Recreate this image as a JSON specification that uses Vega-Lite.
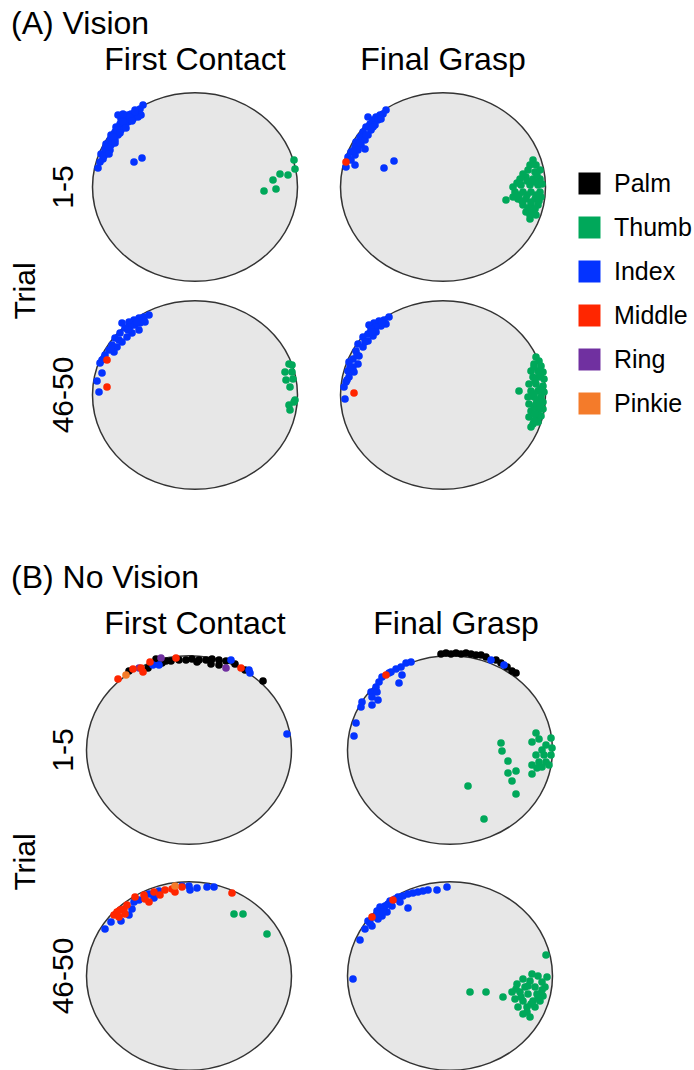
{
"$schema": "https://vega.github.io/schema/vega-lite/v6.json",
"padding": {"left": 11, "top": 8, "right": 0, "bottom": 0},
"background": "white",
"config": {
  "font": "Liberation Sans",
  "view": {"stroke": null},
  "header": {"labelFont": "Liberation Sans", "labelFontSize": 32, "labelColor": "black", "titleFont": "Liberation Sans", "titleFontSize": 30, "titleFontWeight": "normal", "titleColor": "black"},
  "title": {"font": "Liberation Sans", "fontSize": 32, "fontWeight": "normal", "color": "black", "anchor": "start"}
},
"datasets": {
"A": [
{"trial":"1-5","phase":"First Contact","item":"object","x":0,"y":0},
{"trial":"1-5","phase":"Final Grasp","item":"object","x":0,"y":0},
{"trial":"46-50","phase":"First Contact","item":"object","x":0,"y":0},
{"trial":"46-50","phase":"Final Grasp","item":"object","x":0,"y":0},
{"trial":"1-5","phase":"First Contact","digit":"Index","x":-52,"y":-82},
{"trial":"1-5","phase":"First Contact","digit":"Index","x":-55,"y":-78},
{"trial":"1-5","phase":"First Contact","digit":"Index","x":-60,"y":-77},
{"trial":"1-5","phase":"First Contact","digit":"Index","x":-64,"y":-73},
{"trial":"1-5","phase":"First Contact","digit":"Index","x":-67,"y":-72},
{"trial":"1-5","phase":"First Contact","digit":"Index","x":-59,"y":-73},
{"trial":"1-5","phase":"First Contact","digit":"Index","x":-70,"y":-70},
{"trial":"1-5","phase":"First Contact","digit":"Index","x":-74,"y":-68},
{"trial":"1-5","phase":"First Contact","digit":"Index","x":-62,"y":-68},
{"trial":"1-5","phase":"First Contact","digit":"Index","x":-67,"y":-65},
{"trial":"1-5","phase":"First Contact","digit":"Index","x":-75,"y":-63},
{"trial":"1-5","phase":"First Contact","digit":"Index","x":-70,"y":-62},
{"trial":"1-5","phase":"First Contact","digit":"Index","x":-79,"y":-60},
{"trial":"1-5","phase":"First Contact","digit":"Index","x":-74,"y":-57},
{"trial":"1-5","phase":"First Contact","digit":"Index","x":-80,"y":-55},
{"trial":"1-5","phase":"First Contact","digit":"Index","x":-77,"y":-52},
{"trial":"1-5","phase":"First Contact","digit":"Index","x":-84,"y":-52},
{"trial":"1-5","phase":"First Contact","digit":"Index","x":-85,"y":-47},
{"trial":"1-5","phase":"First Contact","digit":"Index","x":-80,"y":-47},
{"trial":"1-5","phase":"First Contact","digit":"Index","x":-89,"y":-43},
{"trial":"1-5","phase":"First Contact","digit":"Index","x":-84,"y":-42},
{"trial":"1-5","phase":"First Contact","digit":"Index","x":-90,"y":-38},
{"trial":"1-5","phase":"First Contact","digit":"Index","x":-85,"y":-37},
{"trial":"1-5","phase":"First Contact","digit":"Index","x":-94,"y":-33},
{"trial":"1-5","phase":"First Contact","digit":"Index","x":-89,"y":-35},
{"trial":"1-5","phase":"First Contact","digit":"Index","x":-92,"y":-28},
{"trial":"1-5","phase":"First Contact","digit":"Index","x":-95,"y":-25},
{"trial":"1-5","phase":"First Contact","digit":"Index","x":-97,"y":-19},
{"trial":"1-5","phase":"First Contact","digit":"Index","x":-54,"y":-72},
{"trial":"1-5","phase":"First Contact","digit":"Index","x":-57,"y":-70},
{"trial":"1-5","phase":"First Contact","digit":"Index","x":-77,"y":-72},
{"trial":"1-5","phase":"First Contact","digit":"Index","x":-72,"y":-73},
{"trial":"1-5","phase":"First Contact","digit":"Index","x":-65,"y":-70},
{"trial":"1-5","phase":"First Contact","digit":"Index","x":-72,"y":-65},
{"trial":"1-5","phase":"First Contact","digit":"Index","x":-78,"y":-57},
{"trial":"1-5","phase":"First Contact","digit":"Index","x":-82,"y":-50},
{"trial":"1-5","phase":"First Contact","digit":"Index","x":-87,"y":-40},
{"trial":"1-5","phase":"First Contact","digit":"Index","x":-91,"y":-31},
{"trial":"1-5","phase":"First Contact","digit":"Index","x":-60,"y":-75},
{"trial":"1-5","phase":"First Contact","digit":"Index","x":-63,"y":-66},
{"trial":"1-5","phase":"First Contact","digit":"Index","x":-69,"y":-59},
{"trial":"1-5","phase":"First Contact","digit":"Index","x":-75,"y":-54},
{"trial":"1-5","phase":"First Contact","digit":"Index","x":-80,"y":-44},
{"trial":"1-5","phase":"First Contact","digit":"Index","x":-86,"y":-33},
{"trial":"1-5","phase":"First Contact","digit":"Index","x":-61,"y":-25},
{"trial":"1-5","phase":"First Contact","digit":"Index","x":-53,"y":-29},
{"trial":"1-5","phase":"First Contact","digit":"Thumb","x":99,"y":-27},
{"trial":"1-5","phase":"First Contact","digit":"Thumb","x":100,"y":-18},
{"trial":"1-5","phase":"First Contact","digit":"Thumb","x":85,"y":-13},
{"trial":"1-5","phase":"First Contact","digit":"Thumb","x":93,"y":-12},
{"trial":"1-5","phase":"First Contact","digit":"Thumb","x":78,"y":-7},
{"trial":"1-5","phase":"First Contact","digit":"Thumb","x":81,"y":2},
{"trial":"1-5","phase":"First Contact","digit":"Thumb","x":69,"y":4},
{"trial":"1-5","phase":"Final Grasp","digit":"Index","x":-57,"y":-77},
{"trial":"1-5","phase":"Final Grasp","digit":"Index","x":-60,"y":-73},
{"trial":"1-5","phase":"Final Grasp","digit":"Index","x":-63,"y":-72},
{"trial":"1-5","phase":"Final Grasp","digit":"Index","x":-67,"y":-70},
{"trial":"1-5","phase":"Final Grasp","digit":"Index","x":-75,"y":-70},
{"trial":"1-5","phase":"Final Grasp","digit":"Index","x":-70,"y":-67},
{"trial":"1-5","phase":"Final Grasp","digit":"Index","x":-65,"y":-67},
{"trial":"1-5","phase":"Final Grasp","digit":"Index","x":-73,"y":-63},
{"trial":"1-5","phase":"Final Grasp","digit":"Index","x":-68,"y":-62},
{"trial":"1-5","phase":"Final Grasp","digit":"Index","x":-77,"y":-60},
{"trial":"1-5","phase":"Final Grasp","digit":"Index","x":-72,"y":-57},
{"trial":"1-5","phase":"Final Grasp","digit":"Index","x":-80,"y":-55},
{"trial":"1-5","phase":"Final Grasp","digit":"Index","x":-75,"y":-52},
{"trial":"1-5","phase":"Final Grasp","digit":"Index","x":-83,"y":-50},
{"trial":"1-5","phase":"Final Grasp","digit":"Index","x":-78,"y":-47},
{"trial":"1-5","phase":"Final Grasp","digit":"Index","x":-87,"y":-45},
{"trial":"1-5","phase":"Final Grasp","digit":"Index","x":-82,"y":-42},
{"trial":"1-5","phase":"Final Grasp","digit":"Index","x":-88,"y":-40},
{"trial":"1-5","phase":"Final Grasp","digit":"Index","x":-85,"y":-37},
{"trial":"1-5","phase":"Final Grasp","digit":"Index","x":-78,"y":-38},
{"trial":"1-5","phase":"Final Grasp","digit":"Index","x":-92,"y":-35},
{"trial":"1-5","phase":"Final Grasp","digit":"Index","x":-88,"y":-32},
{"trial":"1-5","phase":"Final Grasp","digit":"Index","x":-95,"y":-30},
{"trial":"1-5","phase":"Final Grasp","digit":"Index","x":-62,"y":-68},
{"trial":"1-5","phase":"Final Grasp","digit":"Index","x":-70,"y":-60},
{"trial":"1-5","phase":"Final Grasp","digit":"Index","x":-77,"y":-52},
{"trial":"1-5","phase":"Final Grasp","digit":"Index","x":-83,"y":-44},
{"trial":"1-5","phase":"Final Grasp","digit":"Index","x":-90,"y":-36},
{"trial":"1-5","phase":"Final Grasp","digit":"Index","x":-92,"y":-27},
{"trial":"1-5","phase":"Final Grasp","digit":"Index","x":-97,"y":-20},
{"trial":"1-5","phase":"Final Grasp","digit":"Index","x":-88,"y":-22},
{"trial":"1-5","phase":"Final Grasp","digit":"Index","x":-59,"y":-19},
{"trial":"1-5","phase":"Final Grasp","digit":"Index","x":-49,"y":-26},
{"trial":"1-5","phase":"Final Grasp","digit":"Middle","x":-97,"y":-25},
{"trial":"1-5","phase":"Final Grasp","digit":"Thumb","x":90,"y":-27},
{"trial":"1-5","phase":"Final Grasp","digit":"Thumb","x":93,"y":-22},
{"trial":"1-5","phase":"Final Grasp","digit":"Thumb","x":85,"y":-17},
{"trial":"1-5","phase":"Final Grasp","digit":"Thumb","x":92,"y":-15},
{"trial":"1-5","phase":"Final Grasp","digit":"Thumb","x":97,"y":-17},
{"trial":"1-5","phase":"Final Grasp","digit":"Thumb","x":77,"y":-8},
{"trial":"1-5","phase":"Final Grasp","digit":"Thumb","x":83,"y":-10},
{"trial":"1-5","phase":"Final Grasp","digit":"Thumb","x":90,"y":-8},
{"trial":"1-5","phase":"Final Grasp","digit":"Thumb","x":97,"y":-8},
{"trial":"1-5","phase":"Final Grasp","digit":"Thumb","x":70,"y":0},
{"trial":"1-5","phase":"Final Grasp","digit":"Thumb","x":78,"y":-2},
{"trial":"1-5","phase":"Final Grasp","digit":"Thumb","x":87,"y":-2},
{"trial":"1-5","phase":"Final Grasp","digit":"Thumb","x":95,"y":-2},
{"trial":"1-5","phase":"Final Grasp","digit":"Thumb","x":72,"y":5},
{"trial":"1-5","phase":"Final Grasp","digit":"Thumb","x":80,"y":5},
{"trial":"1-5","phase":"Final Grasp","digit":"Thumb","x":88,"y":5},
{"trial":"1-5","phase":"Final Grasp","digit":"Thumb","x":97,"y":5},
{"trial":"1-5","phase":"Final Grasp","digit":"Thumb","x":63,"y":13},
{"trial":"1-5","phase":"Final Grasp","digit":"Thumb","x":75,"y":12},
{"trial":"1-5","phase":"Final Grasp","digit":"Thumb","x":83,"y":12},
{"trial":"1-5","phase":"Final Grasp","digit":"Thumb","x":92,"y":12},
{"trial":"1-5","phase":"Final Grasp","digit":"Thumb","x":98,"y":10},
{"trial":"1-5","phase":"Final Grasp","digit":"Thumb","x":80,"y":18},
{"trial":"1-5","phase":"Final Grasp","digit":"Thumb","x":88,"y":18},
{"trial":"1-5","phase":"Final Grasp","digit":"Thumb","x":95,"y":18},
{"trial":"1-5","phase":"Final Grasp","digit":"Thumb","x":83,"y":25},
{"trial":"1-5","phase":"Final Grasp","digit":"Thumb","x":90,"y":25},
{"trial":"1-5","phase":"Final Grasp","digit":"Thumb","x":87,"y":32},
{"trial":"1-5","phase":"Final Grasp","digit":"Thumb","x":93,"y":28},
{"trial":"1-5","phase":"Final Grasp","digit":"Thumb","x":87,"y":-22},
{"trial":"1-5","phase":"Final Grasp","digit":"Thumb","x":80,"y":-13},
{"trial":"1-5","phase":"Final Grasp","digit":"Thumb","x":94,"y":-12},
{"trial":"1-5","phase":"Final Grasp","digit":"Thumb","x":74,"y":-4},
{"trial":"1-5","phase":"Final Grasp","digit":"Thumb","x":84,"y":-6},
{"trial":"1-5","phase":"Final Grasp","digit":"Thumb","x":92,"y":-5},
{"trial":"1-5","phase":"Final Grasp","digit":"Thumb","x":99,"y":-3},
{"trial":"1-5","phase":"Final Grasp","digit":"Thumb","x":76,"y":8},
{"trial":"1-5","phase":"Final Grasp","digit":"Thumb","x":84,"y":8},
{"trial":"1-5","phase":"Final Grasp","digit":"Thumb","x":93,"y":8},
{"trial":"1-5","phase":"Final Grasp","digit":"Thumb","x":70,"y":10},
{"trial":"1-5","phase":"Final Grasp","digit":"Thumb","x":79,"y":14},
{"trial":"1-5","phase":"Final Grasp","digit":"Thumb","x":88,"y":15},
{"trial":"1-5","phase":"Final Grasp","digit":"Thumb","x":96,"y":14},
{"trial":"1-5","phase":"Final Grasp","digit":"Thumb","x":85,"y":21},
{"trial":"1-5","phase":"Final Grasp","digit":"Thumb","x":92,"y":22},
{"trial":"1-5","phase":"Final Grasp","digit":"Thumb","x":87,"y":28},
{"trial":"46-50","phase":"First Contact","digit":"Index","x":-46,"y":-80},
{"trial":"46-50","phase":"First Contact","digit":"Index","x":-51,"y":-78},
{"trial":"46-50","phase":"First Contact","digit":"Index","x":-56,"y":-77},
{"trial":"46-50","phase":"First Contact","digit":"Index","x":-61,"y":-75},
{"trial":"46-50","phase":"First Contact","digit":"Index","x":-66,"y":-73},
{"trial":"46-50","phase":"First Contact","digit":"Index","x":-73,"y":-72},
{"trial":"46-50","phase":"First Contact","digit":"Index","x":-50,"y":-73},
{"trial":"46-50","phase":"First Contact","digit":"Index","x":-55,"y":-72},
{"trial":"46-50","phase":"First Contact","digit":"Index","x":-60,"y":-70},
{"trial":"46-50","phase":"First Contact","digit":"Index","x":-65,"y":-68},
{"trial":"46-50","phase":"First Contact","digit":"Index","x":-70,"y":-67},
{"trial":"46-50","phase":"First Contact","digit":"Index","x":-56,"y":-65},
{"trial":"46-50","phase":"First Contact","digit":"Index","x":-63,"y":-62},
{"trial":"46-50","phase":"First Contact","digit":"Index","x":-68,"y":-58},
{"trial":"46-50","phase":"First Contact","digit":"Index","x":-75,"y":-62},
{"trial":"46-50","phase":"First Contact","digit":"Index","x":-80,"y":-57},
{"trial":"46-50","phase":"First Contact","digit":"Index","x":-73,"y":-53},
{"trial":"46-50","phase":"First Contact","digit":"Index","x":-83,"y":-50},
{"trial":"46-50","phase":"First Contact","digit":"Index","x":-78,"y":-48},
{"trial":"46-50","phase":"First Contact","digit":"Index","x":-86,"y":-45},
{"trial":"46-50","phase":"First Contact","digit":"Index","x":-81,"y":-43},
{"trial":"46-50","phase":"First Contact","digit":"Index","x":-90,"y":-40},
{"trial":"46-50","phase":"First Contact","digit":"Index","x":-93,"y":-35},
{"trial":"46-50","phase":"First Contact","digit":"Index","x":-95,"y":-32},
{"trial":"46-50","phase":"First Contact","digit":"Index","x":-58,"y":-73},
{"trial":"46-50","phase":"First Contact","digit":"Index","x":-67,"y":-65},
{"trial":"46-50","phase":"First Contact","digit":"Index","x":-76,"y":-55},
{"trial":"46-50","phase":"First Contact","digit":"Index","x":-84,"y":-46},
{"trial":"46-50","phase":"First Contact","digit":"Index","x":-91,"y":-37},
{"trial":"46-50","phase":"First Contact","digit":"Index","x":-93,"y":-22},
{"trial":"46-50","phase":"First Contact","digit":"Index","x":-98,"y":-14},
{"trial":"46-50","phase":"First Contact","digit":"Index","x":-96,"y":-3},
{"trial":"46-50","phase":"First Contact","digit":"Middle","x":-88,"y":-35},
{"trial":"46-50","phase":"First Contact","digit":"Middle","x":-88,"y":-8},
{"trial":"46-50","phase":"First Contact","digit":"Thumb","x":94,"y":-31},
{"trial":"46-50","phase":"First Contact","digit":"Thumb","x":97,"y":-30},
{"trial":"46-50","phase":"First Contact","digit":"Thumb","x":90,"y":-23},
{"trial":"46-50","phase":"First Contact","digit":"Thumb","x":97,"y":-23},
{"trial":"46-50","phase":"First Contact","digit":"Thumb","x":91,"y":-15},
{"trial":"46-50","phase":"First Contact","digit":"Thumb","x":98,"y":-16},
{"trial":"46-50","phase":"First Contact","digit":"Thumb","x":95,"y":-8},
{"trial":"46-50","phase":"First Contact","digit":"Thumb","x":99,"y":7},
{"trial":"46-50","phase":"First Contact","digit":"Thumb","x":94,"y":10},
{"trial":"46-50","phase":"First Contact","digit":"Thumb","x":95,"y":15},
{"trial":"46-50","phase":"First Contact","digit":"Thumb","x":100,"y":5},
{"trial":"46-50","phase":"Final Grasp","digit":"Index","x":-54,"y":-78},
{"trial":"46-50","phase":"Final Grasp","digit":"Index","x":-59,"y":-75},
{"trial":"46-50","phase":"Final Grasp","digit":"Index","x":-64,"y":-74},
{"trial":"46-50","phase":"Final Grasp","digit":"Index","x":-69,"y":-72},
{"trial":"46-50","phase":"Final Grasp","digit":"Index","x":-74,"y":-70},
{"trial":"46-50","phase":"Final Grasp","digit":"Index","x":-57,"y":-71},
{"trial":"46-50","phase":"Final Grasp","digit":"Index","x":-62,"y":-69},
{"trial":"46-50","phase":"Final Grasp","digit":"Index","x":-67,"y":-68},
{"trial":"46-50","phase":"Final Grasp","digit":"Index","x":-72,"y":-66},
{"trial":"46-50","phase":"Final Grasp","digit":"Index","x":-67,"y":-63},
{"trial":"46-50","phase":"Final Grasp","digit":"Index","x":-75,"y":-61},
{"trial":"46-50","phase":"Final Grasp","digit":"Index","x":-70,"y":-59},
{"trial":"46-50","phase":"Final Grasp","digit":"Index","x":-80,"y":-58},
{"trial":"46-50","phase":"Final Grasp","digit":"Index","x":-75,"y":-54},
{"trial":"46-50","phase":"Final Grasp","digit":"Index","x":-85,"y":-51},
{"trial":"46-50","phase":"Final Grasp","digit":"Index","x":-80,"y":-48},
{"trial":"46-50","phase":"Final Grasp","digit":"Index","x":-87,"y":-44},
{"trial":"46-50","phase":"Final Grasp","digit":"Index","x":-84,"y":-39},
{"trial":"46-50","phase":"Final Grasp","digit":"Index","x":-90,"y":-36},
{"trial":"46-50","phase":"Final Grasp","digit":"Index","x":-94,"y":-33},
{"trial":"46-50","phase":"Final Grasp","digit":"Index","x":-85,"y":-31},
{"trial":"46-50","phase":"Final Grasp","digit":"Index","x":-90,"y":-28},
{"trial":"46-50","phase":"Final Grasp","digit":"Index","x":-95,"y":-24},
{"trial":"46-50","phase":"Final Grasp","digit":"Index","x":-89,"y":-23},
{"trial":"46-50","phase":"Final Grasp","digit":"Index","x":-94,"y":-18},
{"trial":"46-50","phase":"Final Grasp","digit":"Index","x":-97,"y":-13},
{"trial":"46-50","phase":"Final Grasp","digit":"Index","x":-99,"y":-8},
{"trial":"46-50","phase":"Final Grasp","digit":"Index","x":-61,"y":-72},
{"trial":"46-50","phase":"Final Grasp","digit":"Index","x":-71,"y":-63},
{"trial":"46-50","phase":"Final Grasp","digit":"Index","x":-78,"y":-53},
{"trial":"46-50","phase":"Final Grasp","digit":"Index","x":-86,"y":-40},
{"trial":"46-50","phase":"Final Grasp","digit":"Index","x":-93,"y":-28},
{"trial":"46-50","phase":"Final Grasp","digit":"Index","x":-96,"y":-15},
{"trial":"46-50","phase":"Final Grasp","digit":"Index","x":-98,"y":4},
{"trial":"46-50","phase":"Final Grasp","digit":"Middle","x":-89,"y":-2},
{"trial":"46-50","phase":"Final Grasp","digit":"Thumb","x":93,"y":-38},
{"trial":"46-50","phase":"Final Grasp","digit":"Thumb","x":96,"y":-34},
{"trial":"46-50","phase":"Final Grasp","digit":"Thumb","x":91,"y":-31},
{"trial":"46-50","phase":"Final Grasp","digit":"Thumb","x":98,"y":-29},
{"trial":"46-50","phase":"Final Grasp","digit":"Thumb","x":88,"y":-24},
{"trial":"46-50","phase":"Final Grasp","digit":"Thumb","x":95,"y":-24},
{"trial":"46-50","phase":"Final Grasp","digit":"Thumb","x":100,"y":-23},
{"trial":"46-50","phase":"Final Grasp","digit":"Thumb","x":90,"y":-18},
{"trial":"46-50","phase":"Final Grasp","digit":"Thumb","x":96,"y":-18},
{"trial":"46-50","phase":"Final Grasp","digit":"Thumb","x":101,"y":-16},
{"trial":"46-50","phase":"Final Grasp","digit":"Thumb","x":86,"y":-11},
{"trial":"46-50","phase":"Final Grasp","digit":"Thumb","x":93,"y":-11},
{"trial":"46-50","phase":"Final Grasp","digit":"Thumb","x":100,"y":-9},
{"trial":"46-50","phase":"Final Grasp","digit":"Thumb","x":88,"y":-4},
{"trial":"46-50","phase":"Final Grasp","digit":"Thumb","x":95,"y":-4},
{"trial":"46-50","phase":"Final Grasp","digit":"Thumb","x":101,"y":-3},
{"trial":"46-50","phase":"Final Grasp","digit":"Thumb","x":85,"y":2},
{"trial":"46-50","phase":"Final Grasp","digit":"Thumb","x":91,"y":2},
{"trial":"46-50","phase":"Final Grasp","digit":"Thumb","x":98,"y":2},
{"trial":"46-50","phase":"Final Grasp","digit":"Thumb","x":86,"y":9},
{"trial":"46-50","phase":"Final Grasp","digit":"Thumb","x":93,"y":9},
{"trial":"46-50","phase":"Final Grasp","digit":"Thumb","x":100,"y":7},
{"trial":"46-50","phase":"Final Grasp","digit":"Thumb","x":88,"y":16},
{"trial":"46-50","phase":"Final Grasp","digit":"Thumb","x":95,"y":16},
{"trial":"46-50","phase":"Final Grasp","digit":"Thumb","x":100,"y":14},
{"trial":"46-50","phase":"Final Grasp","digit":"Thumb","x":86,"y":22},
{"trial":"46-50","phase":"Final Grasp","digit":"Thumb","x":93,"y":22},
{"trial":"46-50","phase":"Final Grasp","digit":"Thumb","x":98,"y":21},
{"trial":"46-50","phase":"Final Grasp","digit":"Thumb","x":90,"y":29},
{"trial":"46-50","phase":"Final Grasp","digit":"Thumb","x":95,"y":27},
{"trial":"46-50","phase":"Final Grasp","digit":"Thumb","x":88,"y":32},
{"trial":"46-50","phase":"Final Grasp","digit":"Thumb","x":91,"y":-28},
{"trial":"46-50","phase":"Final Grasp","digit":"Thumb","x":97,"y":-20},
{"trial":"46-50","phase":"Final Grasp","digit":"Thumb","x":92,"y":-14},
{"trial":"46-50","phase":"Final Grasp","digit":"Thumb","x":97,"y":-6},
{"trial":"46-50","phase":"Final Grasp","digit":"Thumb","x":91,"y":-1},
{"trial":"46-50","phase":"Final Grasp","digit":"Thumb","x":94,"y":5},
{"trial":"46-50","phase":"Final Grasp","digit":"Thumb","x":91,"y":12},
{"trial":"46-50","phase":"Final Grasp","digit":"Thumb","x":97,"y":10},
{"trial":"46-50","phase":"Final Grasp","digit":"Thumb","x":92,"y":19},
{"trial":"46-50","phase":"Final Grasp","digit":"Thumb","x":91,"y":26},
{"trial":"46-50","phase":"Final Grasp","digit":"Thumb","x":76,"y":-4}
],
"B": [
{"trial":"1-5","phase":"First Contact","item":"object","x":0,"y":0},
{"trial":"1-5","phase":"Final Grasp","item":"object","x":0,"y":0},
{"trial":"46-50","phase":"First Contact","item":"object","x":0,"y":0},
{"trial":"46-50","phase":"Final Grasp","item":"object","x":0,"y":0},
{"trial":"1-5","phase":"First Contact","digit":"Palm","x":-60,"y":-79},
{"trial":"1-5","phase":"First Contact","digit":"Palm","x":-41,"y":-82},
{"trial":"1-5","phase":"First Contact","digit":"Palm","x":-33,"y":-91},
{"trial":"1-5","phase":"First Contact","digit":"Palm","x":-23,"y":-89},
{"trial":"1-5","phase":"First Contact","digit":"Palm","x":-18,"y":-89},
{"trial":"1-5","phase":"First Contact","digit":"Palm","x":-10,"y":-90},
{"trial":"1-5","phase":"First Contact","digit":"Palm","x":-3,"y":-90},
{"trial":"1-5","phase":"First Contact","digit":"Palm","x":3,"y":-91},
{"trial":"1-5","phase":"First Contact","digit":"Palm","x":10,"y":-90},
{"trial":"1-5","phase":"First Contact","digit":"Palm","x":17,"y":-90},
{"trial":"1-5","phase":"First Contact","digit":"Palm","x":23,"y":-91},
{"trial":"1-5","phase":"First Contact","digit":"Palm","x":30,"y":-90},
{"trial":"1-5","phase":"First Contact","digit":"Palm","x":22,"y":-86},
{"trial":"1-5","phase":"First Contact","digit":"Palm","x":30,"y":-85},
{"trial":"1-5","phase":"First Contact","digit":"Palm","x":37,"y":-89},
{"trial":"1-5","phase":"First Contact","digit":"Palm","x":46,"y":-86},
{"trial":"1-5","phase":"First Contact","digit":"Palm","x":56,"y":-80},
{"trial":"1-5","phase":"First Contact","digit":"Palm","x":74,"y":-69},
{"trial":"1-5","phase":"First Contact","digit":"Palm","x":8,"y":-88},
{"trial":"1-5","phase":"First Contact","digit":"Palm","x":-27,"y":-87},
{"trial":"1-5","phase":"First Contact","digit":"Ring","x":-50,"y":-82},
{"trial":"1-5","phase":"First Contact","digit":"Ring","x":-28,"y":-92},
{"trial":"1-5","phase":"First Contact","digit":"Ring","x":37,"y":-82},
{"trial":"1-5","phase":"First Contact","digit":"Index","x":-36,"y":-85},
{"trial":"1-5","phase":"First Contact","digit":"Index","x":-30,"y":-85},
{"trial":"1-5","phase":"First Contact","digit":"Index","x":42,"y":-90},
{"trial":"1-5","phase":"First Contact","digit":"Index","x":61,"y":-77},
{"trial":"1-5","phase":"First Contact","digit":"Index","x":60,"y":-80},
{"trial":"1-5","phase":"First Contact","digit":"Index","x":98,"y":-16},
{"trial":"1-5","phase":"First Contact","digit":"Middle","x":-71,"y":-71},
{"trial":"1-5","phase":"First Contact","digit":"Middle","x":-56,"y":-81},
{"trial":"1-5","phase":"First Contact","digit":"Middle","x":-48,"y":-82},
{"trial":"1-5","phase":"First Contact","digit":"Middle","x":-46,"y":-78},
{"trial":"1-5","phase":"First Contact","digit":"Middle","x":-39,"y":-88},
{"trial":"1-5","phase":"First Contact","digit":"Middle","x":-13,"y":-92},
{"trial":"1-5","phase":"First Contact","digit":"Middle","x":52,"y":-82},
{"trial":"1-5","phase":"First Contact","digit":"Pinkie","x":-63,"y":-75},
{"trial":"1-5","phase":"Final Grasp","digit":"Palm","x":-9,"y":-96},
{"trial":"1-5","phase":"Final Grasp","digit":"Palm","x":-4,"y":-97},
{"trial":"1-5","phase":"Final Grasp","digit":"Palm","x":1,"y":-96},
{"trial":"1-5","phase":"Final Grasp","digit":"Palm","x":6,"y":-97},
{"trial":"1-5","phase":"Final Grasp","digit":"Palm","x":11,"y":-96},
{"trial":"1-5","phase":"Final Grasp","digit":"Palm","x":16,"y":-97},
{"trial":"1-5","phase":"Final Grasp","digit":"Palm","x":21,"y":-96},
{"trial":"1-5","phase":"Final Grasp","digit":"Palm","x":26,"y":-95},
{"trial":"1-5","phase":"Final Grasp","digit":"Palm","x":31,"y":-95},
{"trial":"1-5","phase":"Final Grasp","digit":"Palm","x":36,"y":-93},
{"trial":"1-5","phase":"Final Grasp","digit":"Palm","x":46,"y":-90},
{"trial":"1-5","phase":"Final Grasp","digit":"Palm","x":51,"y":-87},
{"trial":"1-5","phase":"Final Grasp","digit":"Palm","x":57,"y":-83},
{"trial":"1-5","phase":"Final Grasp","digit":"Palm","x":62,"y":-79},
{"trial":"1-5","phase":"Final Grasp","digit":"Palm","x":66,"y":-77},
{"trial":"1-5","phase":"Final Grasp","digit":"Index","x":41,"y":-90},
{"trial":"1-5","phase":"Final Grasp","digit":"Index","x":54,"y":-85},
{"trial":"1-5","phase":"Final Grasp","digit":"Index","x":-39,"y":-88},
{"trial":"1-5","phase":"Final Grasp","digit":"Index","x":-44,"y":-87},
{"trial":"1-5","phase":"Final Grasp","digit":"Index","x":-49,"y":-83},
{"trial":"1-5","phase":"Final Grasp","digit":"Index","x":-54,"y":-81},
{"trial":"1-5","phase":"Final Grasp","digit":"Index","x":-59,"y":-78},
{"trial":"1-5","phase":"Final Grasp","digit":"Index","x":-48,"y":-75},
{"trial":"1-5","phase":"Final Grasp","digit":"Index","x":-51,"y":-67},
{"trial":"1-5","phase":"Final Grasp","digit":"Index","x":-68,"y":-73},
{"trial":"1-5","phase":"Final Grasp","digit":"Index","x":-71,"y":-68},
{"trial":"1-5","phase":"Final Grasp","digit":"Index","x":-74,"y":-63},
{"trial":"1-5","phase":"Final Grasp","digit":"Index","x":-79,"y":-58},
{"trial":"1-5","phase":"Final Grasp","digit":"Index","x":-73,"y":-58},
{"trial":"1-5","phase":"Final Grasp","digit":"Index","x":-78,"y":-53},
{"trial":"1-5","phase":"Final Grasp","digit":"Index","x":-88,"y":-48},
{"trial":"1-5","phase":"Final Grasp","digit":"Index","x":-78,"y":-45},
{"trial":"1-5","phase":"Final Grasp","digit":"Index","x":-72,"y":-50},
{"trial":"1-5","phase":"Final Grasp","digit":"Index","x":-89,"y":-43},
{"trial":"1-5","phase":"Final Grasp","digit":"Index","x":-94,"y":-27},
{"trial":"1-5","phase":"Final Grasp","digit":"Index","x":-96,"y":-14},
{"trial":"1-5","phase":"Final Grasp","digit":"Index","x":-61,"y":-77},
{"trial":"1-5","phase":"Final Grasp","digit":"Middle","x":-64,"y":-75},
{"trial":"1-5","phase":"Final Grasp","digit":"Thumb","x":86,"y":-17},
{"trial":"1-5","phase":"Final Grasp","digit":"Thumb","x":89,"y":-11},
{"trial":"1-5","phase":"Final Grasp","digit":"Thumb","x":82,"y":-8},
{"trial":"1-5","phase":"Final Grasp","digit":"Thumb","x":101,"y":-12},
{"trial":"1-5","phase":"Final Grasp","digit":"Thumb","x":96,"y":-5},
{"trial":"1-5","phase":"Final Grasp","digit":"Thumb","x":102,"y":-2},
{"trial":"1-5","phase":"Final Grasp","digit":"Thumb","x":92,"y":0},
{"trial":"1-5","phase":"Final Grasp","digit":"Thumb","x":86,"y":5},
{"trial":"1-5","phase":"Final Grasp","digit":"Thumb","x":94,"y":5},
{"trial":"1-5","phase":"Final Grasp","digit":"Thumb","x":101,"y":5},
{"trial":"1-5","phase":"Final Grasp","digit":"Thumb","x":89,"y":12},
{"trial":"1-5","phase":"Final Grasp","digit":"Thumb","x":96,"y":12},
{"trial":"1-5","phase":"Final Grasp","digit":"Thumb","x":82,"y":15},
{"trial":"1-5","phase":"Final Grasp","digit":"Thumb","x":92,"y":17},
{"trial":"1-5","phase":"Final Grasp","digit":"Thumb","x":99,"y":15},
{"trial":"1-5","phase":"Final Grasp","digit":"Thumb","x":87,"y":18},
{"trial":"1-5","phase":"Final Grasp","digit":"Thumb","x":82,"y":24},
{"trial":"1-5","phase":"Final Grasp","digit":"Thumb","x":51,"y":-7},
{"trial":"1-5","phase":"Final Grasp","digit":"Thumb","x":52,"y":1},
{"trial":"1-5","phase":"Final Grasp","digit":"Thumb","x":58,"y":11},
{"trial":"1-5","phase":"Final Grasp","digit":"Thumb","x":66,"y":21},
{"trial":"1-5","phase":"Final Grasp","digit":"Thumb","x":58,"y":23},
{"trial":"1-5","phase":"Final Grasp","digit":"Thumb","x":62,"y":31},
{"trial":"1-5","phase":"Final Grasp","digit":"Thumb","x":66,"y":44},
{"trial":"1-5","phase":"Final Grasp","digit":"Thumb","x":18,"y":36},
{"trial":"1-5","phase":"Final Grasp","digit":"Thumb","x":34,"y":69},
{"trial":"46-50","phase":"First Contact","digit":"Index","x":-84,"y":-47},
{"trial":"46-50","phase":"First Contact","digit":"Index","x":-78,"y":-54},
{"trial":"46-50","phase":"First Contact","digit":"Index","x":-68,"y":-55},
{"trial":"46-50","phase":"First Contact","digit":"Index","x":-60,"y":-61},
{"trial":"46-50","phase":"First Contact","digit":"Index","x":-57,"y":-67},
{"trial":"46-50","phase":"First Contact","digit":"Index","x":-55,"y":-74},
{"trial":"46-50","phase":"First Contact","digit":"Index","x":-50,"y":-76},
{"trial":"46-50","phase":"First Contact","digit":"Index","x":-40,"y":-82},
{"trial":"46-50","phase":"First Contact","digit":"Index","x":-30,"y":-85},
{"trial":"46-50","phase":"First Contact","digit":"Index","x":-7,"y":-90},
{"trial":"46-50","phase":"First Contact","digit":"Index","x":0,"y":-90},
{"trial":"46-50","phase":"First Contact","digit":"Index","x":1,"y":-86},
{"trial":"46-50","phase":"First Contact","digit":"Index","x":8,"y":-88},
{"trial":"46-50","phase":"First Contact","digit":"Index","x":18,"y":-89},
{"trial":"46-50","phase":"First Contact","digit":"Index","x":25,"y":-89},
{"trial":"46-50","phase":"First Contact","digit":"Index","x":-35,"y":-78},
{"trial":"46-50","phase":"First Contact","digit":"Middle","x":-75,"y":-61},
{"trial":"46-50","phase":"First Contact","digit":"Middle","x":-72,"y":-64},
{"trial":"46-50","phase":"First Contact","digit":"Middle","x":-69,"y":-66},
{"trial":"46-50","phase":"First Contact","digit":"Middle","x":-65,"y":-67},
{"trial":"46-50","phase":"First Contact","digit":"Middle","x":-62,"y":-71},
{"trial":"46-50","phase":"First Contact","digit":"Middle","x":-70,"y":-59},
{"trial":"46-50","phase":"First Contact","digit":"Middle","x":-64,"y":-62},
{"trial":"46-50","phase":"First Contact","digit":"Middle","x":-54,"y":-79},
{"trial":"46-50","phase":"First Contact","digit":"Middle","x":-45,"y":-81},
{"trial":"46-50","phase":"First Contact","digit":"Middle","x":-40,"y":-74},
{"trial":"46-50","phase":"First Contact","digit":"Middle","x":-35,"y":-84},
{"trial":"46-50","phase":"First Contact","digit":"Middle","x":-29,"y":-81},
{"trial":"46-50","phase":"First Contact","digit":"Middle","x":-24,"y":-86},
{"trial":"46-50","phase":"First Contact","digit":"Middle","x":-17,"y":-87},
{"trial":"46-50","phase":"First Contact","digit":"Middle","x":-14,"y":-84},
{"trial":"46-50","phase":"First Contact","digit":"Middle","x":-7,"y":-89},
{"trial":"46-50","phase":"First Contact","digit":"Middle","x":43,"y":-83},
{"trial":"46-50","phase":"First Contact","digit":"Middle","x":-44,"y":-77},
{"trial":"46-50","phase":"First Contact","digit":"Pinkie","x":-14,"y":-90},
{"trial":"46-50","phase":"First Contact","digit":"Thumb","x":45,"y":-62},
{"trial":"46-50","phase":"First Contact","digit":"Thumb","x":54,"y":-62},
{"trial":"46-50","phase":"First Contact","digit":"Thumb","x":78,"y":-42},
{"trial":"46-50","phase":"Final Grasp","digit":"Index","x":-3,"y":-89},
{"trial":"46-50","phase":"Final Grasp","digit":"Index","x":-13,"y":-86},
{"trial":"46-50","phase":"Final Grasp","digit":"Index","x":-22,"y":-86},
{"trial":"46-50","phase":"Final Grasp","digit":"Index","x":-27,"y":-85},
{"trial":"46-50","phase":"Final Grasp","digit":"Index","x":-32,"y":-84},
{"trial":"46-50","phase":"Final Grasp","digit":"Index","x":-37,"y":-83},
{"trial":"46-50","phase":"Final Grasp","digit":"Index","x":-42,"y":-82},
{"trial":"46-50","phase":"Final Grasp","digit":"Index","x":-47,"y":-80},
{"trial":"46-50","phase":"Final Grasp","digit":"Index","x":-52,"y":-79},
{"trial":"46-50","phase":"Final Grasp","digit":"Index","x":-55,"y":-77},
{"trial":"46-50","phase":"Final Grasp","digit":"Index","x":-50,"y":-74},
{"trial":"46-50","phase":"Final Grasp","digit":"Index","x":-42,"y":-68},
{"trial":"46-50","phase":"Final Grasp","digit":"Index","x":-60,"y":-75},
{"trial":"46-50","phase":"Final Grasp","digit":"Index","x":-65,"y":-70},
{"trial":"46-50","phase":"Final Grasp","digit":"Index","x":-70,"y":-69},
{"trial":"46-50","phase":"Final Grasp","digit":"Index","x":-73,"y":-65},
{"trial":"46-50","phase":"Final Grasp","digit":"Index","x":-63,"y":-64},
{"trial":"46-50","phase":"Final Grasp","digit":"Index","x":-68,"y":-60},
{"trial":"46-50","phase":"Final Grasp","digit":"Index","x":-77,"y":-59},
{"trial":"46-50","phase":"Final Grasp","digit":"Index","x":-72,"y":-57},
{"trial":"46-50","phase":"Final Grasp","digit":"Index","x":-82,"y":-55},
{"trial":"46-50","phase":"Final Grasp","digit":"Index","x":-78,"y":-50},
{"trial":"46-50","phase":"Final Grasp","digit":"Index","x":-85,"y":-47},
{"trial":"46-50","phase":"Final Grasp","digit":"Index","x":-62,"y":-72},
{"trial":"46-50","phase":"Final Grasp","digit":"Index","x":-72,"y":-62},
{"trial":"46-50","phase":"Final Grasp","digit":"Index","x":-80,"y":-53},
{"trial":"46-50","phase":"Final Grasp","digit":"Index","x":-90,"y":-36},
{"trial":"46-50","phase":"Final Grasp","digit":"Index","x":-97,"y":3},
{"trial":"46-50","phase":"Final Grasp","digit":"Index","x":-58,"y":-70},
{"trial":"46-50","phase":"Final Grasp","digit":"Index","x":-67,"y":-64},
{"trial":"46-50","phase":"Final Grasp","digit":"Middle","x":-57,"y":-76},
{"trial":"46-50","phase":"Final Grasp","digit":"Middle","x":-78,"y":-59},
{"trial":"46-50","phase":"Final Grasp","digit":"Thumb","x":96,"y":-21},
{"trial":"46-50","phase":"Final Grasp","digit":"Thumb","x":82,"y":-2},
{"trial":"46-50","phase":"Final Grasp","digit":"Thumb","x":88,"y":0},
{"trial":"46-50","phase":"Final Grasp","digit":"Thumb","x":97,"y":1},
{"trial":"46-50","phase":"Final Grasp","digit":"Thumb","x":73,"y":3},
{"trial":"46-50","phase":"Final Grasp","digit":"Thumb","x":80,"y":5},
{"trial":"46-50","phase":"Final Grasp","digit":"Thumb","x":92,"y":6},
{"trial":"46-50","phase":"Final Grasp","digit":"Thumb","x":67,"y":8},
{"trial":"46-50","phase":"Final Grasp","digit":"Thumb","x":75,"y":11},
{"trial":"46-50","phase":"Final Grasp","digit":"Thumb","x":85,"y":11},
{"trial":"46-50","phase":"Final Grasp","digit":"Thumb","x":95,"y":11},
{"trial":"46-50","phase":"Final Grasp","digit":"Thumb","x":62,"y":16},
{"trial":"46-50","phase":"Final Grasp","digit":"Thumb","x":70,"y":16},
{"trial":"46-50","phase":"Final Grasp","digit":"Thumb","x":78,"y":18},
{"trial":"46-50","phase":"Final Grasp","digit":"Thumb","x":87,"y":18},
{"trial":"46-50","phase":"Final Grasp","digit":"Thumb","x":93,"y":20},
{"trial":"46-50","phase":"Final Grasp","digit":"Thumb","x":65,"y":23},
{"trial":"46-50","phase":"Final Grasp","digit":"Thumb","x":73,"y":25},
{"trial":"46-50","phase":"Final Grasp","digit":"Thumb","x":83,"y":25},
{"trial":"46-50","phase":"Final Grasp","digit":"Thumb","x":90,"y":25},
{"trial":"46-50","phase":"Final Grasp","digit":"Thumb","x":68,"y":31},
{"trial":"46-50","phase":"Final Grasp","digit":"Thumb","x":77,"y":31},
{"trial":"46-50","phase":"Final Grasp","digit":"Thumb","x":85,"y":31},
{"trial":"46-50","phase":"Final Grasp","digit":"Thumb","x":73,"y":38},
{"trial":"46-50","phase":"Final Grasp","digit":"Thumb","x":80,"y":41},
{"trial":"46-50","phase":"Final Grasp","digit":"Thumb","x":78,"y":10},
{"trial":"46-50","phase":"Final Grasp","digit":"Thumb","x":88,"y":22},
{"trial":"46-50","phase":"Final Grasp","digit":"Thumb","x":81,"y":28},
{"trial":"46-50","phase":"Final Grasp","digit":"Thumb","x":71,"y":21},
{"trial":"46-50","phase":"Final Grasp","digit":"Thumb","x":77,"y":36},
{"trial":"46-50","phase":"Final Grasp","digit":"Thumb","x":92,"y":14},
{"trial":"46-50","phase":"Final Grasp","digit":"Thumb","x":66,"y":13},
{"trial":"46-50","phase":"Final Grasp","digit":"Thumb","x":20,"y":16},
{"trial":"46-50","phase":"Final Grasp","digit":"Thumb","x":36,"y":16},
{"trial":"46-50","phase":"Final Grasp","digit":"Thumb","x":53,"y":21}
]
},
"vconcat": [
{
  "data": {"name": "A"},
  "title": {"text": "(A) Vision", "offset": 3},
  "facet": {
    "row": {"field": "trial", "type": "nominal", "sort": "ascending", "title": "Trial", "header": {"labelFontSize": 30, "labelPadding": 1, "titlePadding": -3}},
    "column": {"field": "phase", "type": "nominal", "sort": "descending", "title": null, "header": {"labelPadding": 12}}
  },
  "spacing": {"row": 12, "column": 18},
  "spec": {
    "width": 230, "height": 196,
    "layer": [
      {"transform": [{"filter": "datum.item == 'object'"}],
       "mark": {"type": "point", "shape": "M-1,0A1,0.92,0,1,1,1,0A1,0.92,0,1,1,-1,0Z", "size": 42025, "fill": "#e7e7e7", "stroke": "#333333", "strokeWidth": 1.5, "opacity": 1, "fillOpacity": 1},
       "encoding": {
         "x": {"field": "x", "type": "quantitative", "scale": {"domain": [-115, 115], "nice": false, "zero": false}, "axis": null},
         "y": {"field": "y", "type": "quantitative", "scale": {"domain": [-98, 98], "reverse": true, "nice": false, "zero": false}, "axis": null}}},
      {"transform": [{"filter": "datum.item != 'object'"}],
       "mark": {"type": "circle", "size": 58, "opacity": 1},
       "encoding": {
         "x": {"field": "x", "type": "quantitative", "scale": {"domain": [-115, 115], "nice": false, "zero": false}, "axis": null},
         "y": {"field": "y", "type": "quantitative", "scale": {"domain": [-98, 98], "reverse": true, "nice": false, "zero": false}, "axis": null},
         "color": {"field": "digit", "type": "nominal",
           "scale": {"domain": ["Palm", "Thumb", "Index", "Middle", "Ring", "Pinkie"], "range": ["#000000", "#00a85a", "#0433ff", "#ff2600", "#7030a0", "#f47b2a"]},
           "legend": {"title": null, "orient": "none", "legendX": 497, "legendY": 82, "symbolType": "square", "symbolSize": 484, "symbolStrokeWidth": 0, "symbolOpacity": 1, "labelFontSize": 25, "labelFont": "Liberation Sans", "labelColor": "black", "labelOffset": 12, "rowPadding": 18}}
       }}
    ]
  }
},
{
  "data": {"name": "B"},
  "title": {"text": "(B) No Vision", "offset": 13},
  "facet": {
    "row": {"field": "trial", "type": "nominal", "sort": "ascending", "title": "Trial", "header": {"labelFontSize": 30, "labelPadding": 1, "titlePadding": -3}},
    "column": {"field": "phase", "type": "nominal", "sort": "descending", "title": null, "header": {"labelPadding": 8}}
  },
  "spacing": {"row": 30, "column": 31},
  "spec": {
    "width": 230, "height": 196,
    "layer": [
      {"transform": [{"filter": "datum.item == 'object'"}],
       "mark": {"type": "point", "shape": "M-1,0A1,0.92,0,1,1,1,0A1,0.92,0,1,1,-1,0Z", "size": 42025, "fill": "#e7e7e7", "stroke": "#333333", "strokeWidth": 1.5, "opacity": 1, "fillOpacity": 1},
       "encoding": {
         "x": {"field": "x", "type": "quantitative", "scale": {"domain": [-109, 121], "nice": false, "zero": false}, "axis": null},
         "y": {"field": "y", "type": "quantitative", "scale": {"domain": [-98, 98], "reverse": true, "nice": false, "zero": false}, "axis": null}}},
      {"transform": [{"filter": "datum.item != 'object'"}],
       "mark": {"type": "circle", "size": 58, "opacity": 1},
       "encoding": {
         "x": {"field": "x", "type": "quantitative", "scale": {"domain": [-109, 121], "nice": false, "zero": false}, "axis": null},
         "y": {"field": "y", "type": "quantitative", "scale": {"domain": [-98, 98], "reverse": true, "nice": false, "zero": false}, "axis": null},
         "color": {"field": "digit", "type": "nominal",
           "scale": {"domain": ["Palm", "Thumb", "Index", "Middle", "Ring", "Pinkie"], "range": ["#000000", "#00a85a", "#0433ff", "#ff2600", "#7030a0", "#f47b2a"]},
           "legend": null}
       }}
    ]
  }
}
],
"spacing": 69
}
